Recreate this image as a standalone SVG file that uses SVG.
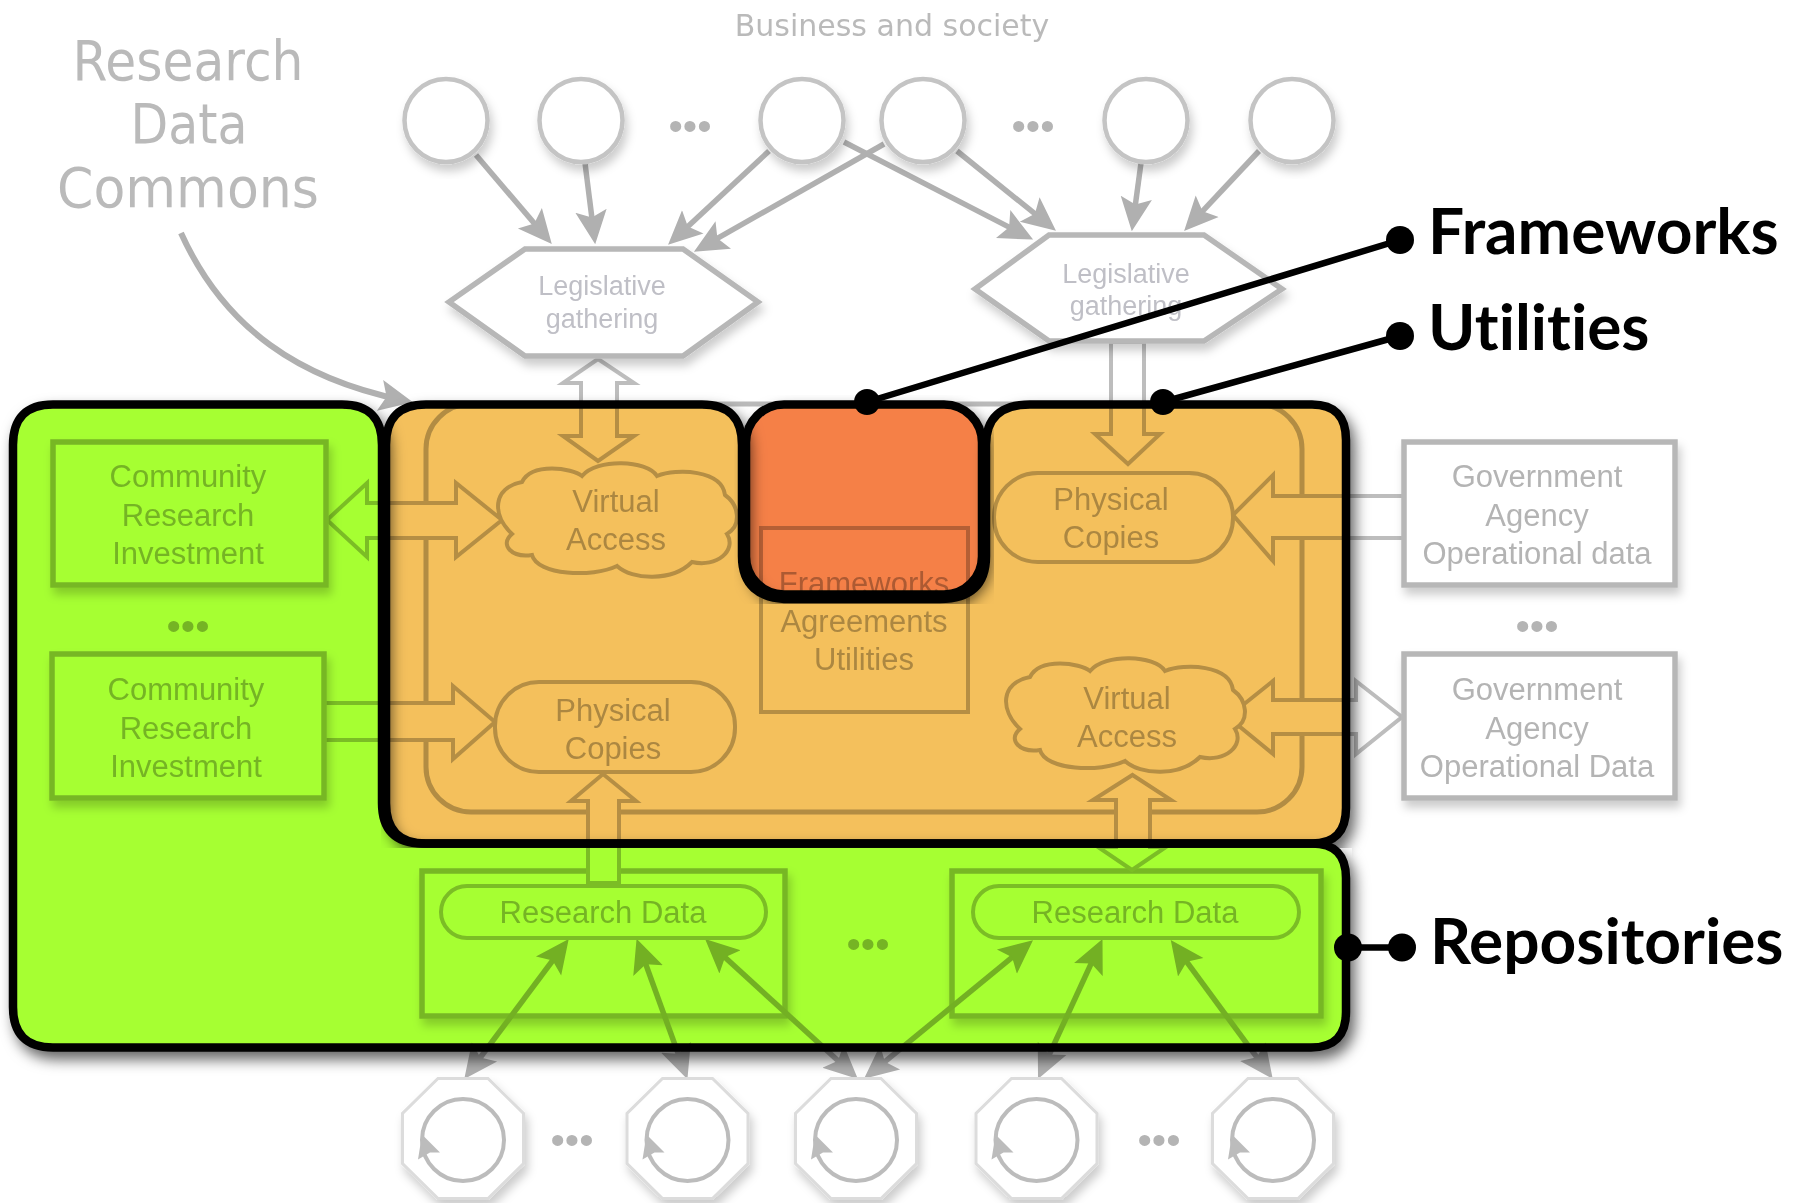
<svg xmlns="http://www.w3.org/2000/svg" width="1801" height="1203" viewBox="0 0 1801 1203">
<style>
.n{fill:#fff;stroke:#b7b7b7;stroke-width:5.5}
.l{fill:none;stroke:#b0b0b0;stroke-width:5.5}
.b{fill:#fff;stroke:#bdbdbd;stroke-width:4;stroke-linejoin:miter}
.c{fill:#fff;stroke:#c4c4c4;stroke-width:4.5}
.o{fill:#fff;stroke:#dcdcdc;stroke-width:3}
.t{font-family:"Liberation Sans",Arial,sans-serif;font-size:31px;fill:#b4b4b4;text-anchor:middle}
.h{font-family:"Liberation Sans",Arial,sans-serif;font-size:27px;fill:#bfbfc6;text-anchor:middle}
.d{font-family:"DejaVu Sans",sans-serif;fill:#bababa;text-anchor:middle}
.dots{font-family:"Liberation Sans",Arial,sans-serif;font-size:41px;fill:#b4b4b4;text-anchor:middle}
.ov{stroke:#000;stroke-width:8.5;stroke-linejoin:round}
.m{mix-blend-mode:multiply}
.k{font-family:Lato,"Open Sans",sans-serif;font-weight:700;font-size:64px;fill:#000;font-variant-ligatures:none}
.cl{stroke:#000;stroke-width:6.5;fill:none}
</style>
<defs>
<filter id="soft" x="-20%" y="-20%" width="140%" height="140%"><feDropShadow dx="3" dy="7" stdDeviation="5" flood-color="#000" flood-opacity=".2"/></filter>
<filter id="deep" x="-5%" y="-5%" width="110%" height="110%"><feDropShadow dx="5" dy="8" stdDeviation="7" flood-color="#000" flood-opacity=".6"/></filter>
<marker id="ah" markerUnits="userSpaceOnUse" markerWidth="36" markerHeight="34" viewBox="0 0 32 30" refX="20" refY="15" orient="auto-start-reverse"><path d="M0,1 L30,15 L0,29 L6,15Z" fill="#b0b0b0"/></marker>
<clipPath id="oc"><path d="M381,380H1410V1060H1352V848H381Z"/></clipPath>
<g id="oct"><polygon class="o" points="-25,-60 25,-60 60.5,-25 60.5,25 25,60 -25,60 -60.5,25 -60.5,-25"/><circle cx="0" cy="1.5" r="41" fill="none" stroke="#bcbcbc" stroke-width="4"/><path d="M-41,-4 L-45,21 L-33,14 L-23,14Z" fill="#bcbcbc"/></g>
<path id="cloud" d="M-105,14C-125,-5-125,-32-95,-38C-85,-58-45,-52-35,-44C-20,-62 30,-60 40,-44C60,-52 105,-50 108,-25C122,-15 125,5 110,14C120,30 100,48 75,42C55,62 15,60 0,46C-25,58-80,55-85,35C-105,38-118,25-105,14Z"/>
</defs>
<rect width="1801" height="1203" fill="#fff"/>
<text class="d" x="892" y="36" font-size="30">Business and society</text>
<g id="research-data-commons"><text class="d" font-size="56" x="188" y="80" textLength="231" lengthAdjust="spacingAndGlyphs">Research</text><text class="d" font-size="56" x="189" y="143" textLength="117" lengthAdjust="spacingAndGlyphs">Data</text><text class="d" font-size="56" x="188" y="207" textLength="262" lengthAdjust="spacingAndGlyphs">Commons</text></g>
<g id="big-box"><rect x="426" y="404" width="876" height="408" rx="45" fill="#fff" stroke="#bababa" stroke-width="5"/></g>
<g id="fw-box"><rect x="761" y="528" width="207" height="184" fill="#fff" stroke="#bdbdbd" stroke-width="4"/><text class="t"><tspan x="864" y="594">Frameworks</tspan><tspan x="864" y="632">Agreements</tspan><tspan x="864" y="670">Utilities</tspan></text></g>
<g id="repo-1" filter="url(#soft)"><rect x="422" y="871" width="363" height="145" class="n"/></g>
<g id="repo-2" filter="url(#soft)"><rect x="952" y="871" width="369" height="145" class="n"/></g>
<g id="connectors">
<g class="l" marker-end="url(#ah)">
<path d="M476,155L544.5,235.4"/><path d="M585,163L593.8,233.1"/><path d="M769,151L676.3,237.2"/><path d="M884,144L703.7,246.1"/><path d="M844,142L1023.1,234.4"/><path d="M957,151L1047.2,223.7"/><path d="M1141,163L1133.3,220.1"/><path d="M1259,151L1191.8,222.7"/>
<path d="M181,233C225,330 301,379 402,400" stroke-width="6"/>
</g>
<g class="l" marker-start="url(#ah)" marker-end="url(#ah)">
<path d="M471,1070L562,948"/>
<path d="M683.6,1068.6L640.4,949.4"/>
<path d="M849.6,1071.3L713.4,946.7"/>
<path d="M872.7,1071.7L1024.3,947.3"/>
<path d="M1042.7,1068.9L1097.8,949.1"/>
<path d="M1266.1,1069.9L1177.4,949.1"/>
</g>
<polygon class="b" points="598,359 634,383 617,383 617,436 634,436 598,461 563,436 581,436 581,383 563,383"/>
<polygon class="b" points="1111,342 1144,342 1144,434 1160,434 1128,464 1095,434 1111,434"/>
<polygon class="b" points="327,520 367,483 367,503 456,503 456,483 502,520 456,557 456,538 367,538 367,557"/>
<polygon class="b" points="324,703 453,703 453,686 495,722 453,759 453,740 324,740"/>
<polygon class="b" points="1233,515 1273,475 1273,496 1404,496 1404,538 1273,538 1273,561"/>
<polygon class="b" points="1228,717 1273,681 1273,700 1356,700 1356,681 1402,717 1356,754 1356,734 1273,734 1273,754"/>
<polygon class="b" points="588,883 588,801 571,801 603,774 636,801 619,801 619,883"/>
<polygon class="b" points="1132.5,775 1171,800 1150,800 1150,847 1166,847 1132,870 1098,847 1116,847 1116,800 1093,800"/>
</g>
<g id="c1" filter="url(#soft)"><circle class="c" cx="446" cy="120.5" r="41.5"/></g>
<g id="c2" filter="url(#soft)"><circle class="c" cx="581" cy="120.5" r="41.5"/></g>
<g id="c3" filter="url(#soft)"><circle class="c" cx="802" cy="120.5" r="41.5"/></g>
<g id="c4" filter="url(#soft)"><circle class="c" cx="923" cy="120.5" r="41.5"/></g>
<g id="c5" filter="url(#soft)"><circle class="c" cx="1146" cy="120.5" r="41.5"/></g>
<g id="c6" filter="url(#soft)"><circle class="c" cx="1292" cy="120.5" r="41.5"/></g>
<g id="hex-1"><polygon class="n" filter="url(#soft)" points="449,302 525,249 683,249 758,302 683,356 525,356"/><text class="h"><tspan x="602" y="295">Legislative</tspan><tspan x="602" y="328">gathering</tspan></text></g>
<g id="hex-2"><polygon class="n" filter="url(#soft)" points="975,289 1049,235 1204,235 1282,289 1204,341 1049,341"/><text class="h"><tspan x="1126" y="283">Legislative</tspan><tspan x="1126" y="315">gathering</tspan></text></g>
<g id="cri-1"><rect x="53" y="442" width="273" height="143" class="n" filter="url(#soft)"/><text class="t"><tspan x="188" y="487">Community</tspan><tspan x="188" y="526">Research</tspan><tspan x="188" y="564">Investment</tspan></text></g>
<g id="cri-2"><rect x="52" y="654" width="272" height="144" class="n" filter="url(#soft)"/><text class="t"><tspan x="186" y="700">Community</tspan><tspan x="186" y="739">Research</tspan><tspan x="186" y="777">Investment</tspan></text></g>
<g id="gov-1"><rect x="1404" y="442" width="271" height="143" class="n" filter="url(#soft)"/><text class="t"><tspan x="1537" y="487">Government</tspan><tspan x="1537" y="526">Agency</tspan><tspan x="1537" y="564">Operational data</tspan></text></g>
<g id="gov-2"><rect x="1404" y="654" width="271" height="144" class="n" filter="url(#soft)"/><text class="t"><tspan x="1537" y="700">Government</tspan><tspan x="1537" y="739">Agency</tspan><tspan x="1537" y="777">Operational Data</tspan></text></g>
<g id="va-1"><use href="#cloud" transform="translate(617,520)" fill="#fff" stroke="#bdbdbd" stroke-width="4"/><text class="t"><tspan x="616" y="512">Virtual</tspan><tspan x="616" y="550">Access</tspan></text></g>
<g id="va-2"><use href="#cloud" transform="translate(1125,715)" fill="#fff" stroke="#bdbdbd" stroke-width="4"/><text class="t"><tspan x="1127" y="709">Virtual</tspan><tspan x="1127" y="747">Access</tspan></text></g>
<g id="pc-1"><rect x="994" y="473" width="239" height="89" rx="44" class="b"/><text class="t"><tspan x="1111" y="510">Physical</tspan><tspan x="1111" y="548">Copies</tspan></text></g>
<g id="pc-2"><rect x="495" y="682" width="240" height="90" rx="44" class="b"/><text class="t"><tspan x="613" y="721">Physical</tspan><tspan x="613" y="759">Copies</tspan></text></g>
<g id="rd-1"><rect x="441" y="886" width="325" height="52" rx="26" class="b"/><text class="t" x="603" y="923">Research Data</text></g>
<g id="rd-2"><rect x="973" y="886" width="326" height="52" rx="26" class="b"/><text class="t" x="1135" y="923">Research Data</text></g>
<g id="o1" filter="url(#soft)"><use href="#oct" x="463" y="1138.5"/></g>
<g id="o2" filter="url(#soft)"><use href="#oct" x="687.5" y="1138.5"/></g>
<g id="o3" filter="url(#soft)"><use href="#oct" x="856" y="1138.5"/></g>
<g id="o4" filter="url(#soft)"><use href="#oct" x="1036.5" y="1138.5"/></g>
<g id="o5" filter="url(#soft)"><use href="#oct" x="1273" y="1138.5"/></g>
<g class="dots">
<text x="690" y="140">•••</text><text x="1033" y="140">•••</text><text x="188" y="640">•••</text><text x="1537" y="640">•••</text><text x="868" y="958">•••</text><text x="572" y="1154">•••</text><text x="1159" y="1154">•••</text>
</g>
<g clip-path="url(#oc)" class="m"><path id="utilities-panel" class="ov" filter="url(#deep)" fill="#f4c05c" d="M426,404.5H702Q742,404.5 742,445V556Q742,599 790,599H940Q986,599 986,556V445Q986,404.5 1030,404.5H1312Q1346,404.5 1346,440V808Q1346,843.5 1312,843.5H426Q386,843.5 386,803V445Q386,404.5 426,404.5Z"/></g>
<path id="repositories-panel" class="ov m" filter="url(#deep)" fill="#a6ff33" d="M53,404.5H342Q382,404.5 382,445V803Q382,843.5 422,843.5H1312Q1346,843.5 1346,878V1012Q1346,1047.5 1311,1047.5H53Q13,1047.5 13,1007V445Q13,404.5 53,404.5Z"/>
<rect id="frameworks-panel" class="ov m" filter="url(#deep)" fill="#f58046" x="746" y="404.5" width="236" height="190" rx="38"/>
<g id="callouts">
<path class="cl" d="M867,402L1400,240M1163,402L1400,336M1348,947.5H1402"/>
<circle cx="867" cy="402" r="13"/><circle cx="1400" cy="240" r="14"/><circle cx="1163" cy="402" r="13"/><circle cx="1400" cy="336" r="14"/><circle cx="1348" cy="947.5" r="14"/><circle cx="1402" cy="947.5" r="14"/>
<text class="k" x="1428" y="254">Frameworks</text>
<text class="k" x="1428" y="350">Utilities</text>
<text class="k" x="1430" y="964">Repositories</text>
</g>
</svg>
